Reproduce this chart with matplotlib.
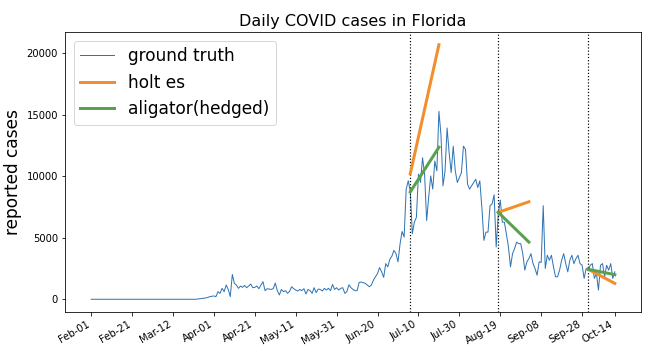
import numpy as np
import pandas as pd
import matplotlib
matplotlib.use('Agg')
import matplotlib.pyplot as plt

### Data (day 0 = 2020-02-01)
start_date = '2020-02-01'
cases = [0]*52 + [
    20, 40, 60, 90, 110, 150, 215, 240, 270, 215,
    620, 480, 890, 620, 1160, 800, 215, 2020, 1290, 1160,
    890, 1075, 970, 1130, 940, 1075, 1240, 940, 970, 1075,
    860, 1160, 1430, 700, 860, 830, 800, 860, 1320, 700,
    350, 800, 620, 700, 480, 650, 1020, 860, 750, 670,
    800, 700, 860, 430, 800, 700, 480, 940, 540, 830,
    800, 670, 890, 750, 890, 700, 1210, 800, 940, 750,
    890, 940, 480, 620, 1180, 940, 800, 700, 700, 1370,
    1400, 1350, 1290, 1160, 1020, 1160, 1560, 1830, 2100, 2580,
    2230, 1780, 2900, 2640, 3250, 3500, 3980, 3710, 3040, 4500,
    5510, 5060, 8960, 9630, 8800, 5330, 6270, 6670, 10170, 9500,
    11510, 10170, 6400, 8290, 10030, 8960, 11240, 10440, 15280, 13400,
    9230, 10440, 13930, 11920, 10300, 12450, 10440, 9500, 9900, 10300,
    12450, 12190, 9360, 8960, 9230, 9500, 9760, 9090, 9630, 7480,
    4790, 5460, 5460, 7610, 7750, 8500, 4250, 6900, 8070, 6270,
    6270, 5300, 4250, 2640, 3710, 4120, 4650, 4520, 4520, 3710,
    2370, 3040, 3310, 3710, 2900, 2500, 1960, 3040, 3000, 7610,
    2500, 3580, 3170, 3580, 2640, 1830, 1830, 2370, 3170, 3710,
    2900, 2230, 3170, 3580, 2900, 3310, 3580, 2900, 2770, 1700,
    2500, 2370, 2770, 2900, 1700, 2100, 750, 2770, 2900, 1830,
    2770, 2370, 2900, 1700, 2230]

# forecast segments: (start day, end day) and values at both ends
fc_start = [156, 199, 243]
fc_end = [170, 214, 256]
holt_start = [10200, 7070, 2440]
holt_end = [20700, 7930, 1290]
aligator_start = [8730, 7070, 2440]
aligator_end = [12360, 4650, 2000]

days = np.arange(len(cases))
dates = pd.date_range(start_date, periods=len(cases), freq='D')
tick_idx = list(range(0, len(cases), 20)) + [len(cases) - 1]
tick_lab = [dates[i].strftime('%b-%d') for i in tick_idx]

### Plot
fig = plt.figure(figsize=(670/72., 356/72.), dpi=72)
ax = fig.add_axes([65/670., 44/356., 576/670., 280/356.])

ax.plot(days, cases, color='#2f74b5', lw=1, label='ground truth')
for i in range(len(fc_start)):
    ax.axvline(fc_start[i], color='k', ls=':', lw=1.2)
    ax.plot([fc_start[i], fc_end[i]], [holt_start[i], holt_end[i]],
            color='#f28e2b', lw=3, label='holt es' if i == 0 else None)
    ax.plot([fc_start[i], fc_end[i]], [aligator_start[i], aligator_end[i]],
            color='#59a14f', lw=3, label='aligator(hedged)' if i == 0 else None)

ax.set_xticks(tick_idx)
ax.set_xticklabels(tick_lab, rotation=30, ha='right', fontsize=10)
ax.tick_params(axis='y', labelsize=10)
ax.set_ylabel('reported cases', fontsize=17)
ax.set_title('Daily COVID cases in Florida', fontsize=16)
ax.legend(loc='upper left', fontsize=17)

fig.savefig('out.png', dpi=72)
